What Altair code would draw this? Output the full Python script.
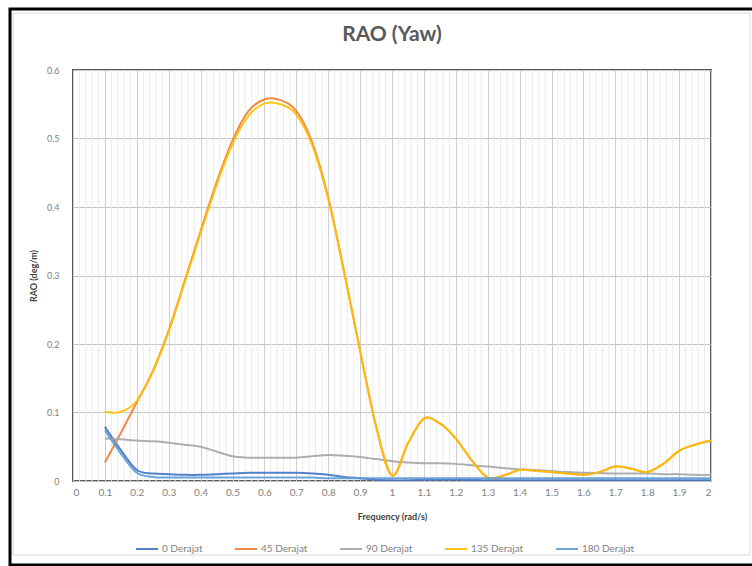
import altair as alt
import pandas as pd

freq = [0.10, 0.15, 0.20, 0.25, 0.30, 0.35, 0.40, 0.45, 0.50, 0.55, 0.60, 0.65, 0.70,
        0.75, 0.80, 0.85, 0.90, 0.95, 1.00, 1.05, 1.10, 1.15, 1.20, 1.25, 1.30, 1.35,
        1.40, 1.45, 1.50, 1.55, 1.60, 1.65, 1.70, 1.75, 1.80, 1.85, 1.90, 1.95, 2.00]

rao_0 = [0.079, 0.045, 0.016, 0.011, 0.010, 0.009, 0.009, 0.010, 0.011, 0.012, 0.012, 0.012, 0.012,
         0.011, 0.009, 0.006, 0.004, 0.002, 0.001, 0.001, 0.002, 0.002, 0.002, 0.0015, 0.001, 0.001,
         0.001, 0.001, 0.001, 0.001, 0.001, 0.001, 0.001, 0.001, 0.001, 0.001, 0.001, 0.001, 0.001]

rao_45 = [0.027, 0.070, 0.115, 0.160, 0.220, 0.292, 0.365, 0.436, 0.497, 0.540, 0.557, 0.556, 0.540,
          0.494, 0.414, 0.305, 0.190, 0.080, 0.008, 0.055, 0.091, 0.084, 0.062, 0.030, 0.005, 0.008,
          0.016, 0.015, 0.013, 0.011, 0.009, 0.013, 0.021, 0.018, 0.013, 0.025, 0.044, 0.053, 0.059]

rao_90 = [0.062, 0.061, 0.059, 0.058, 0.056, 0.053, 0.050, 0.043, 0.036, 0.034, 0.034, 0.034, 0.034,
          0.036, 0.038, 0.037, 0.035, 0.032, 0.029, 0.027, 0.026, 0.026, 0.025, 0.023, 0.021, 0.019,
          0.017, 0.016, 0.0145, 0.013, 0.012, 0.0115, 0.011, 0.011, 0.011, 0.010, 0.010, 0.009, 0.009]

rao_135 = [0.101, 0.101, 0.117, 0.160, 0.218, 0.290, 0.362, 0.432, 0.492, 0.533, 0.551, 0.550, 0.535,
           0.490, 0.412, 0.305, 0.190, 0.080, 0.008, 0.055, 0.091, 0.084, 0.062, 0.030, 0.005, 0.008,
           0.016, 0.015, 0.013, 0.011, 0.009, 0.013, 0.021, 0.018, 0.013, 0.025, 0.044, 0.053, 0.059]

rao_180 = [0.074, 0.040, 0.012, 0.006, 0.005, 0.005, 0.005, 0.005, 0.005, 0.005, 0.005, 0.005, 0.005,
           0.005, 0.004, 0.004, 0.004, 0.004, 0.004, 0.004, 0.004, 0.004, 0.004, 0.004, 0.004, 0.004,
           0.004, 0.004, 0.004, 0.004, 0.004, 0.004, 0.004, 0.004, 0.004, 0.004, 0.004, 0.004, 0.004]

series_names = ["0 Derajat", "45 Derajat", "90 Derajat", "135 Derajat", "180 Derajat"]
series_colors = ["#4472C4", "#ED7D31", "#A5A5A5", "#FFC000", "#5B9BD5"]
series_values = [rao_0, rao_45, rao_90, rao_135, rao_180]

x_major = [round(i * 0.1, 1) for i in range(21)]
x_minor = [round(i * 0.02, 2) for i in range(1, 100) if i % 5 != 0]
y_major = [round(i * 0.1, 1) for i in range(7)]

rows = []
for name, vals in zip(series_names, series_values):
    for f, v in zip(freq, vals):
        rows.append({"freq": f, "rao": v, "series": name})
df = pd.DataFrame(rows)

FONT = "Lato"
W, H = 638, 411

x_scale = alt.Scale(domain=[0, 2], nice=False, zero=False)
x_axis = alt.Axis(values=x_major, format="~g", title="Frequency (rad/s)", grid=True,
                  gridColor="#cfcfcf", ticks=False, domain=False, labelPadding=6,
                  labelOverlap=False, labelFontSize=10, labelColor="#7f7f7f",
                  titleFontSize=9, titleColor="#404040", titleFontWeight="bold",
                  titlePadding=15)
x_enc = alt.X("freq:Q", scale=x_scale, axis=x_axis)
y_enc = alt.Y(
    "rao:Q",
    scale=alt.Scale(domain=[0, 0.6], nice=False),
    axis=alt.Axis(values=y_major, format="~g", title="RAO (deg/m)", grid=True,
                  gridColor="#c4c4c4", ticks=False, domain=False, labelPadding=14,
                  labelFontSize=9, labelColor="#7f7f7f", titleFontSize=9,
                  titleColor="#404040", titleFontWeight="bold", titlePadding=8),
)
color_enc = alt.Color(
    "series:N",
    scale=alt.Scale(domain=series_names, range=series_colors),
    legend=alt.Legend(orient="none", legendX=62, legendY=467, direction="horizontal",
                      title=None, symbolType="stroke", symbolSize=484, symbolStrokeWidth=2,
                      labelFontSize=10, labelColor="#7f7f7f", columnPadding=28,
                      labelOffset=3),
)

minor = alt.Chart(pd.DataFrame({"g": x_minor})).mark_rule(
    color="#ebebeb", strokeWidth=1
).encode(x=alt.X("g:Q", scale=x_scale, axis=x_axis))

layers = [minor]
for name in series_names:
    layers.append(
        alt.Chart(df).transform_filter(alt.datum.series == name)
        .mark_line(strokeWidth=2, interpolate="cardinal", clip=True, opacity=0.9)
        .encode(x=x_enc, y=y_enc, color=color_enc)
    )

frame_df = pd.DataFrame({"k": [0]})
inner_border = alt.Chart(frame_df).mark_rect(
    fillOpacity=0, stroke="#d9d9d9", strokeWidth=1
).encode(x=alt.value(-60), x2=alt.value(677), y=alt.value(-57), y2=alt.value(485))
outer_border = alt.Chart(frame_df).mark_rect(
    fillOpacity=0, stroke="#000000", strokeWidth=3
).encode(x=alt.value(-63), x2=alt.value(681), y=alt.value(-61), y2=alt.value(495))
title_text = alt.Chart(frame_df).mark_text(
    text="RAO (Yaw)", font=FONT, fontSize=21, fontWeight="bold", color="#595959",
    align="center", baseline="middle"
).encode(x=alt.value(W / 2), y=alt.value(-35))

chart = alt.layer(*layers, inner_border, outer_border, title_text).properties(
    width=W, height=H,
    autosize=alt.AutoSizeParams(type="none"),
    padding={"left": 73, "top": 70, "right": 41, "bottom": 85},
).configure(
    font=FONT, background="white"
).configure_view(
    stroke="#595959", strokeWidth=2
).configure_axis(
    labelFont=FONT, titleFont=FONT
).configure_legend(
    labelFont=FONT
)

chart.save("out.html", embed_options={"renderer": "svg", "actions": False})
